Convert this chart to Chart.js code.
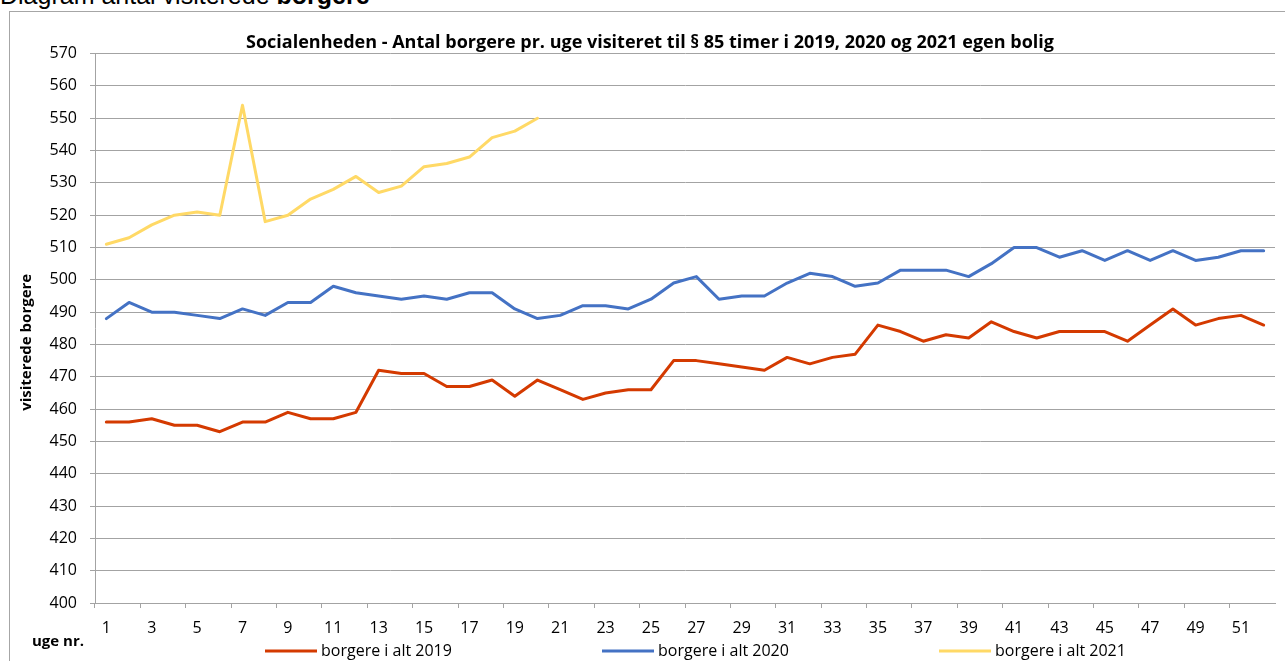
<!DOCTYPE html>
<html>
<head>
<meta charset="utf-8">
<script src="https://cdn.jsdelivr.net/npm/chart.js@4.4.1/dist/chart.umd.min.js"></script>
<style>
  html, body { margin: 0; padding: 0; background: #fff; overflow: hidden; }
  #wrap { position: relative; width: 1285px; height: 661px; overflow: hidden; }
  #heading { position: absolute; left: 0; top: -17px; font: 25px/1 "Liberation Sans", Arial, sans-serif; color: #000; white-space: nowrap; }
  #frame { position: absolute; left: 9px; top: 11px; width: 1400px; height: 700px; border-left: 1px solid #a6a6a6; border-top: 1px solid #a6a6a6; }
  #chart { position: absolute; left: 0; top: 0; }
</style>
</head>
<body>
<div id="wrap">
  <div id="heading">Diagram antal visiterede <b>borgere</b></div>
  <div id="frame"></div>
  <canvas id="chart" width="1285" height="661"></canvas>
</div>
<script>
// uge nr. 1-52
const weeks = [1, 2, 3, 4, 5, 6, 7, 8, 9, 10, 11, 12, 13, 14, 15, 16, 17, 18, 19, 20, 21, 22, 23, 24, 25, 26,
    27, 28, 29, 30, 31, 32, 33, 34, 35, 36, 37, 38, 39, 40, 41, 42, 43, 44, 45, 46, 47, 48, 49, 50, 51, 52];

const borgere2019 = [456, 456, 457, 455, 455, 453, 456, 456, 459, 457, 457, 459, 472, 471, 471, 467, 467, 469,
    464, 469, 466, 463, 465, 466, 466, 475, 475, 474, 473, 472, 476, 474, 476, 477, 486,
    484, 481, 483, 482, 487, 484, 482, 484, 484, 484, 481, 486, 491, 486, 488, 489, 486];

const borgere2020 = [488, 493, 490, 490, 489, 488, 491, 489, 493, 493, 498, 496, 495, 494, 495, 494, 496, 496,
    491, 488, 489, 492, 492, 491, 494, 499, 501, 494, 495, 495, 499, 502, 501, 498, 499,
    503, 503, 503, 501, 505, 510, 510, 507, 509, 506, 509, 506, 509, 506, 507, 509, 509];

const borgere2021 = [511, 513, 517, 520, 521, 520, 554, 518, 520, 525, 528, 532, 527, 529, 535, 536, 538, 544, 546, 550];

const seriesLabels = ['borgere i alt 2019', 'borgere i alt 2020', 'borgere i alt 2021'];
const seriesColors = ['#d43a00', '#4472c4', '#ffd966'];

const gridGray = '#a3a3a3';
const fontFamily = '"Open Sans", Lato, sans-serif';

// y-axis title, "uge nr." and the legend row
const extraText = {
    id: 'extraText',
    afterDraw(chart) {
        const c = chart.ctx;
        const area = chart.chartArea;
        c.save();
        c.fillStyle = '#000';
        c.font = 'bold 15px ' + fontFamily;
        c.textBaseline = 'middle';
        c.textAlign = 'center';

        c.save();
        c.translate(27, (area.top + area.bottom) / 2 + 14);
        c.rotate(-Math.PI / 2);
        c.fillText('visiterede borgere', 0, 0);
        c.restore();

        c.fillText('uge nr.', 58, 642);

        c.font = '16px ' + fontFamily;
        c.textAlign = 'left';
        chart.data.datasets.forEach(function (ds, i) {
            const x = 265 + i * 337;
            const y = 651;
            c.strokeStyle = ds.borderColor;
            c.lineWidth = 3;
            c.beginPath();
            c.moveTo(x, y);
            c.lineTo(x + 52, y);
            c.stroke();
            c.fillStyle = '#000';
            c.fillText(ds.label, x + 56, y);
        });
        c.restore();
    }
};

function makeDataset(i, values) {
    return {
        label: seriesLabels[i],
        data: values,
        borderColor: seriesColors[i],
        backgroundColor: seriesColors[i],
        borderWidth: 3,
        pointRadius: 0,
        tension: 0,
        borderJoinStyle: 'round',
        borderCapStyle: 'round'
    };
}

const ctx = document.querySelector('#chart').getContext('2d');
const myChart = new Chart(ctx, {
    type: 'line',
    data: {
        labels: weeks,
        datasets: [
            makeDataset(0, borgere2019),
            makeDataset(1, borgere2020),
            makeDataset(2, borgere2021)
        ]
    },
    options: {
        responsive: false,
        animation: false,
        layout: {
            padding: { left: 25, right: 10, top: 32, bottom: 0 }
        },
        scales: {
            x: {
                offset: true,
                afterFit: function (scale) { scale.height = 58; },
                grid: {
                    offset: true,
                    drawOnChartArea: false,
                    tickLength: 5,
                    tickColor: function (c) { return c.index % 2 === 0 ? gridGray : 'rgba(0,0,0,0)'; }
                },
                border: { color: gridGray, width: 1 },
                ticks: {
                    autoSkip: false,
                    maxRotation: 0,
                    padding: 11,
                    color: '#000',
                    font: { family: fontFamily, size: 16 },
                    callback: function (val, index) {
                        return index % 2 === 0 ? this.getLabelForValue(val) : '';
                    }
                }
            },
            y: {
                min: 400,
                max: 570,
                afterFit: function (scale) { scale.width = 70; },
                grid: {
                    color: gridGray,
                    lineWidth: 1,
                    tickLength: 5
                },
                border: { color: gridGray, width: 1 },
                ticks: {
                    stepSize: 10,
                    padding: 13,
                    color: '#000',
                    font: { family: fontFamily, size: 16 }
                }
            }
        },
        plugins: {
            legend: { display: false },
            tooltip: { enabled: false },
            title: {
                display: true,
                text: 'Socialenheden - Antal borgere pr. uge visiteret til § 85 timer i 2019, 2020 og 2021 egen bolig',
                color: '#000',
                font: { family: fontFamily, size: 18, weight: 'bold' },
                padding: { top: 0, bottom: 0 }
            }
        }
    },
    plugins: [extraText]
});
</script>
</body>
</html>
